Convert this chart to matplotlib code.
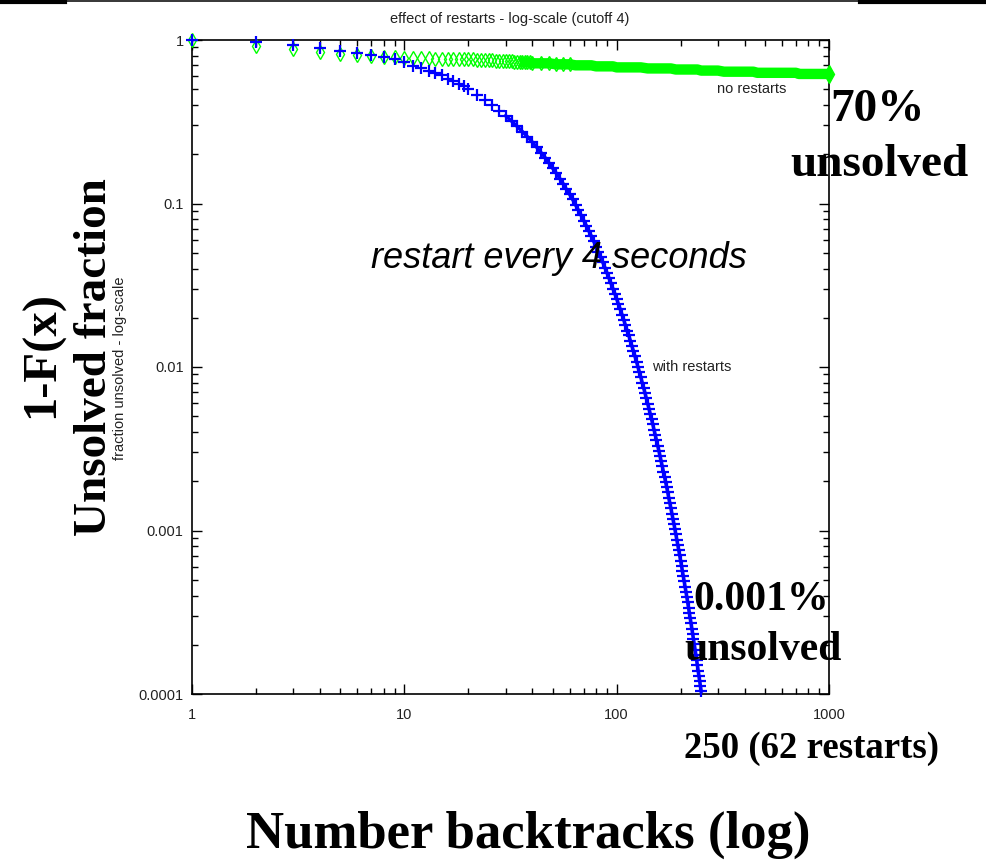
import matplotlib
matplotlib.use('Agg')
import matplotlib.pyplot as plt
from matplotlib.lines import Line2D
from matplotlib.ticker import NullFormatter

# number of backtracks vs fraction still unsolved
restart_x = list(range(1, 21)) + list(range(22, 251, 2))
restart_y = [1.00, 0.97, 0.93, 0.89, 0.86, 0.83, 0.81, 0.79, 0.76, 0.73,
             0.69, 0.67, 0.65, 0.63, 0.61, 0.58, 0.56, 0.54, 0.52, 0.50,
             0.461, 0.429, 0.398, 0.370, 0.344, 0.319, 0.296, 0.275, 0.256, 0.238,
             0.221, 0.205, 0.191, 0.177, 0.164, 0.153, 0.142, 0.132, 0.122, 0.114,
             0.106, 0.0982, 0.0912, 0.0847, 0.0787, 0.0731, 0.0679, 0.0631, 0.0586, 0.0544,
             0.0506, 0.0470, 0.0437, 0.0406, 0.0377, 0.0350, 0.0325, 0.0302, 0.0281, 0.0261,
             0.0242, 0.0225, 0.0209, 0.0194, 0.0180, 0.0167, 0.0156, 0.0145, 0.0134, 0.0125,
             0.0116, 0.0108, 0.0100, 0.00929, 0.00863, 0.00802, 0.00745, 0.00692, 0.00643, 0.00597,
             0.00555, 0.00515, 0.00479, 0.00445, 0.00413, 0.00384, 0.00356, 0.00331, 0.00308, 0.00286,
             0.00265, 0.00247, 0.00229, 0.00213, 0.00198, 0.00184, 0.00171, 0.00158, 0.00147, 0.00137,
             0.00127, 0.00118, 0.00110, 0.00102, 0.000946, 0.000879, 0.000817, 0.000759, 0.000705, 0.000655,
             0.000608, 0.000565, 0.000525, 0.000488, 0.000453, 0.000421, 0.000391, 0.000363, 0.000337, 0.000313,
             0.000291, 0.000270, 0.000251, 0.000233, 0.000217, 0.000201, 0.000187, 0.000174, 0.000161, 0.000150,
             0.000139, 0.000129, 0.000120, 0.000112, 0.000104]

norestart_x = (list(range(1, 41)) + list(range(44, 101, 4))
               + list(range(110, 301, 10)) + list(range(320, 1001, 20)))
norestart_y = [1.00, 0.92, 0.88, 0.85, 0.82, 0.81, 0.80, 0.79, 0.79, 0.78,
               0.78, 0.78, 0.78, 0.77, 0.77, 0.77, 0.77, 0.76, 0.76, 0.76,
               0.76, 0.75, 0.75, 0.75, 0.75, 0.75, 0.74, 0.74, 0.74, 0.74,
               0.74, 0.74, 0.73, 0.73, 0.73, 0.73, 0.73, 0.73, 0.73, 0.72,
               0.72, 0.72, 0.71, 0.71, 0.71, 0.70, 0.70, 0.70, 0.70, 0.69,
               0.69, 0.69, 0.69, 0.69, 0.68,
               0.68, 0.68, 0.68, 0.67, 0.67, 0.67, 0.67, 0.67, 0.66, 0.66,
               0.66, 0.66, 0.66, 0.66, 0.65, 0.65, 0.65, 0.65, 0.65, 0.65,
               0.64, 0.64, 0.64, 0.64, 0.64, 0.64, 0.64,
               0.63, 0.63, 0.63, 0.63, 0.63, 0.63, 0.63, 0.63, 0.63, 0.63, 0.63, 0.63, 0.63,
               0.62, 0.62, 0.62, 0.62, 0.62, 0.62, 0.62, 0.62, 0.62, 0.62, 0.62, 0.62, 0.62, 0.62, 0.62]

xticks = [1, 10, 100, 1000]
xtick_labels = ['1', '10', '100', '1000']
yticks = [1e-4, 1e-3, 1e-2, 1e-1, 1]
ytick_labels = ['0.0001', '0.001', '0.01', '0.1', '1']

W, H = 986, 861
fig = plt.figure(figsize=(W / 100, H / 100), dpi=100)
ax = fig.add_axes([192 / W, 1 - 694 / H, (829 - 192) / W, (694 - 40) / H])

green = '#00ff00'
blue = '#0000ff'

# dense part of the no-restart curve shows as a solid band
ax.plot(norestart_x[34:], norestart_y[34:], color=green, lw=7.5, solid_capstyle='butt', zorder=2)
ax.plot(norestart_x[:45], norestart_y[:45], ls='none', marker='d', ms=7, mfc='none', mec=green,
        mew=1, clip_on=False, zorder=3)
ax.plot(norestart_x[-1:], norestart_y[-1:], ls='none', marker='d', ms=9, color=green,
        clip_on=False, zorder=3)
# dense part of the restart curve: thin core under the markers
ax.plot(restart_x[24:], restart_y[24:], color=blue, lw=2.5, zorder=3)
ax.plot(restart_x, restart_y, ls='none', marker='+', ms=8.5, mew=1.6, color=blue,
        clip_on=False, zorder=4)

ax.set_xscale('log')
ax.set_yscale('log')
ax.set_xlim(1, 1000)
ax.set_ylim(1e-4, 1)
ax.set_xticks(xticks, labels=xtick_labels)
ax.set_yticks(yticks, labels=ytick_labels)
ax.xaxis.set_minor_formatter(NullFormatter())
ax.yaxis.set_minor_formatter(NullFormatter())
ax.tick_params(which='both', direction='in', top=True, right=True, width=1, colors='black')
ax.tick_params(which='major', length=7)
ax.tick_params(which='minor', length=4)
ax.tick_params(axis='x', pad=10)
ax.tick_params(axis='y', pad=6)
for lab in ax.get_xticklabels() + ax.get_yticklabels():
    lab.set_fontfamily('Liberation Sans')
    lab.set_fontsize(10.5)
    lab.set_color('#222222')
for s in ax.spines.values():
    s.set_linewidth(1.2)

small = dict(family='Liberation Sans', fontsize=10.5, color='#222222', ha='center', va='center')
big = dict(family='Liberation Serif', fontweight='bold', color='black', ha='center', va='center')


def fx(px):
    return px / W


def fy(py):
    return 1 - py / H


fig.text(fx(510), fy(19), 'effect of restarts - log-scale (cutoff 4)', **small)
fig.text(fx(752), fy(89), 'no restarts', **small)
fig.text(fx(692), fy(367), 'with restarts', **small)
fig.text(fx(120), fy(368), 'fraction unsolved - log-scale', rotation=90, **small)

fig.text(fx(42), fy(355), '1-F(x)', rotation=90, fontsize=35, **big)
fig.text(fx(95), fy(357), 'Unsolved fraction', rotation=90, fontsize=34, **big)
fig.text(fx(528), fy(835), 'Number backtracks (log)', fontsize=38, **big)
fig.text(fx(877), fy(110), '70%', fontsize=34, **big)
fig.text(fx(879), fy(165), 'unsolved', fontsize=34, **big)
fig.text(fx(761), fy(600), '0.001%', fontsize=30, **big)
fig.text(fx(763), fy(650), 'unsolved', fontsize=30, **big)
fig.text(fx(811), fy(748), '250 (62 restarts)', fontsize=26.5, **big)
fig.text(fx(559), fy(259), 'restart every 4 seconds', family='Liberation Sans', style='italic',
         fontsize=26, color='black', ha='center', va='center')

# black rule along the top edge
fig.add_artist(Line2D([0, 1], [fy(0.7), fy(0.7)], color='black', lw=1.1))
fig.add_artist(Line2D([0, fx(65)], [fy(2), fy(2)], color='black', lw=3))
fig.add_artist(Line2D([fx(860), 1], [fy(2), fy(2)], color='black', lw=3))

fig.savefig('out.png', dpi=100)
